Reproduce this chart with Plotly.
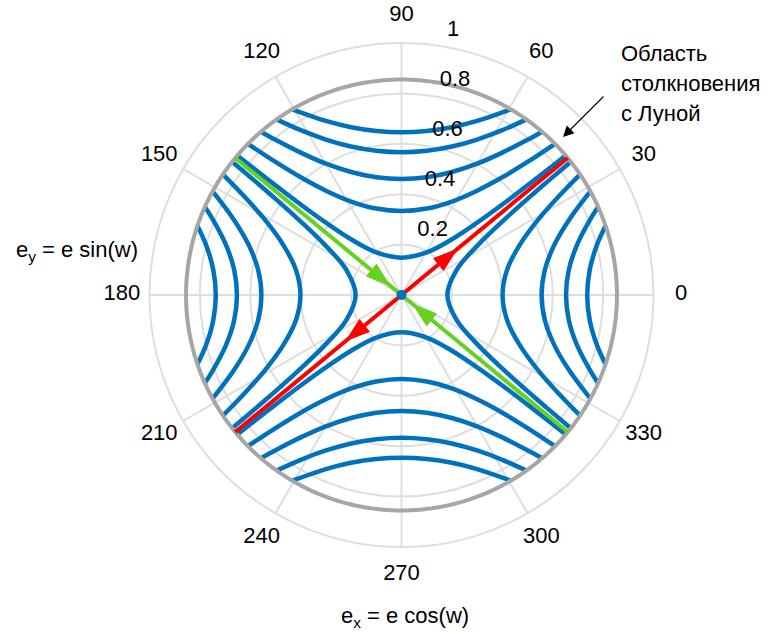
import numpy as np
import plotly.graph_objects as go

# ---- data (units of eccentricity) ----
# upper family, first-quadrant halves (mirrored to the left and to the bottom)
top_ex = [
    [0.0, 0.1, 0.2, 0.3, 0.436],
    [0.0, 0.1, 0.2, 0.3, 0.4, 0.498],
    [0.0, 0.1, 0.2, 0.3, 0.4, 0.5, 0.560],
    [0.0, 0.1, 0.2, 0.3, 0.4, 0.5, 0.611],
    [0.0, 0.1, 0.2, 0.3, 0.4, 0.5, 0.6, 0.653],
]
top_ey = [
    [0.646, 0.651, 0.666, 0.691, 0.738],
    [0.566, 0.572, 0.589, 0.617, 0.654, 0.698],
    [0.460, 0.467, 0.488, 0.521, 0.565, 0.616, 0.649],
    [0.333, 0.343, 0.371, 0.414, 0.467, 0.528, 0.601],
    [0.148, 0.169, 0.221, 0.287, 0.359, 0.435, 0.513, 0.555],
]
# side family, first-quadrant halves (mirrored to the bottom and to the left)
side_ey = [
    [0.0, 0.1, 0.2, 0.3, 0.4, 0.45, 0.530],
    [0.0, 0.1, 0.2, 0.3, 0.4, 0.480],
    [0.0, 0.1, 0.2, 0.3, 0.413],
    [0.0, 0.1, 0.2, 0.3, 0.352],
    [0.0, 0.1, 0.2, 0.277],
]
side_ex = [
    [0.182, 0.219, 0.305, 0.409, 0.521, 0.579, 0.673],
    [0.401, 0.419, 0.470, 0.543, 0.632, 0.710],
    [0.556, 0.569, 0.607, 0.666, 0.751],
    [0.653, 0.664, 0.697, 0.749, 0.782],
    [0.737, 0.747, 0.776, 0.811],
]
moon_r = 0.855          # collision-with-Moon eccentricity
sep_angle = 39.5        # separatrix direction, degrees
red_arrow_r = [0.21, 0.285]    # base, tip
green_arrow_r = [0.15, 0.06]   # base, tip
r_ticks = [0.2, 0.4, 0.6, 0.8, 1.0]
r_ticklabels = ["0.2", "0.4", "0.6", "0.8", "1"]
theta_ticks = list(range(0, 360, 30))
theta_ticklabels = [str(t) for t in theta_ticks]
annot_lines = ["Область", "столкновения", "с Луной"]

BLUE = "#0072BD"
RED = "#FF0000"
GREEN = "#66D11F"
GREY = "#A6A6A6"
GRID = "#DEDEDE"
FONT = "Liberation Sans, Arial, sans-serif"
FS = 22

# plot geometry (pixels): centre and radius of the r = 1 circle
CX, CY, R1 = 401.5, 295.0, 252.0
W, H = 768, 633
LABEL_RANGE = 1.15   # second (overlay) polar used for the tick labels


def to_polar(x, y):
    x = np.asarray(x, float)
    y = np.asarray(y, float)
    return np.hypot(x, y), np.degrees(np.arctan2(y, x))


def domain_for(rmax):
    rad = R1 * rmax
    return dict(x=[(CX - rad) / W, (CX + rad) / W],
                y=[(H - CY - rad) / H, (H - CY + rad) / H])


fig = go.Figure()


def add_curve(x, y):
    r, th = to_polar(x, y)
    fig.add_trace(go.Scatterpolar(r=r, theta=th, mode="lines",
                                  line=dict(color=BLUE, width=4.5, shape="spline"),
                                  hoverinfo="skip", showlegend=False))


for xs, ys in zip(top_ex, top_ey):
    xf = [-v for v in reversed(xs[1:])] + xs
    yf = list(reversed(ys[1:])) + ys
    add_curve(xf, yf)
    add_curve(xf, [-v for v in yf])

for xs, ys in zip(side_ex, side_ey):
    yf = [-v for v in reversed(ys[1:])] + ys
    xf = list(reversed(xs[1:])) + xs
    add_curve(xf, yf)
    add_curve([-v for v in xf], yf)

# collision circle
circ_t = np.linspace(0, 360, 721)
fig.add_trace(go.Scatterpolar(r=np.full_like(circ_t, moon_r), theta=circ_t, mode="lines",
                              line=dict(color=GREY, width=4), hoverinfo="skip", showlegend=False))

# separatrices
fig.add_trace(go.Scatterpolar(r=[moon_r, 0, moon_r], theta=[sep_angle + 180, 0, sep_angle],
                              mode="lines", line=dict(color=RED, width=4),
                              hoverinfo="skip", showlegend=False))
fig.add_trace(go.Scatterpolar(r=[moon_r, 0, moon_r], theta=[180 - sep_angle, 0, -sep_angle],
                              mode="lines", line=dict(color=GREEN, width=4),
                              hoverinfo="skip", showlegend=False))

# arrow heads
fig.add_trace(go.Scatterpolar(
    r=red_arrow_r + red_arrow_r,
    theta=[sep_angle, sep_angle, sep_angle + 180, sep_angle + 180],
    mode="markers",
    marker=dict(symbol="arrow", angleref="previous", size=[0, 25, 0, 25], color=RED,
                opacity=1, line=dict(width=1, color=RED)),
    hoverinfo="skip", showlegend=False))
fig.add_trace(go.Scatterpolar(
    r=green_arrow_r + green_arrow_r,
    theta=[180 - sep_angle, 180 - sep_angle, -sep_angle, -sep_angle],
    mode="markers",
    marker=dict(symbol="arrow", angleref="previous", size=[0, 25, 0, 25], color=GREEN,
                opacity=1, line=dict(width=1, color=GREEN)),
    hoverinfo="skip", showlegend=False))

# centre point
fig.add_trace(go.Scatterpolar(r=[0], theta=[0], mode="markers",
                              marker=dict(color=BLUE, size=10), hoverinfo="skip",
                              showlegend=False))

# radial tick labels (MATLAB style, near 80 degrees, offset outward a little)
fig.add_trace(go.Scatterpolar(r=[v + 0.06 for v in r_ticks], theta=[81.5] * len(r_ticks),
                              mode="text", text=["\u00a0" + s for s in r_ticklabels],
                              textposition="middle right", cliponaxis=False,
                              textfont=dict(size=FS, color="black", family=FONT),
                              hoverinfo="skip", showlegend=False, subplot="polar2"))

# angular tick labels, centred on a ring just outside the plot
fig.add_trace(go.Scatterpolar(r=[1.11] * len(theta_ticks), theta=theta_ticks,
                              mode="text", text=theta_ticklabels,
                              textposition="middle center", cliponaxis=False,
                              textfont=dict(size=FS, color="black", family=FONT),
                              hoverinfo="skip", showlegend=False, subplot="polar2"))

annotations = [
    dict(text="e<sub>y</sub> = e sin(w)", x=140 / W, y=1 - 251 / H,
         xref="paper", yref="paper", xanchor="right", yanchor="middle",
         showarrow=False, font=dict(size=FS, color="black", family=FONT)),
    dict(text="e<sub>x</sub> = e cos(w)", x=405 / W, y=1 - 617 / H,
         xref="paper", yref="paper", xanchor="center", yanchor="middle",
         showarrow=False, font=dict(size=FS, color="black", family=FONT)),
    dict(text="", x=563 / W, y=1 - 137 / H, xref="paper", yref="paper",
         showarrow=True, ax=42, ay=-42, arrowhead=2, arrowsize=1.8,
         arrowwidth=1.2, arrowcolor="black"),
]
for i, line in enumerate(annot_lines):
    annotations.append(dict(text=line, x=619 / W, y=1 - (54 + 29.5 * i) / H,
                            xref="paper", yref="paper", xanchor="left", yanchor="middle",
                            align="left", showarrow=False,
                            font=dict(size=FS, color="black", family=FONT)))

fig.update_layout(
    width=W, height=H,
    margin=dict(l=0, r=0, t=0, b=0),
    paper_bgcolor="white",
    font=dict(family=FONT, size=FS, color="black"),
    polar=dict(
        domain=domain_for(1.0),
        bgcolor="white",
        radialaxis=dict(range=[0, 1], tickvals=r_ticks, showticklabels=False,
                        showline=False, ticks="", gridcolor=GRID, gridwidth=2, angle=80),
        angularaxis=dict(tickvals=theta_ticks, ticktext=theta_ticklabels,
                         direction="counterclockwise", rotation=0,
                         showline=True, linecolor=GRID, linewidth=2,
                         gridcolor=GRID, gridwidth=2, showticklabels=False, ticks=""),
    ),
    polar2=dict(
        domain=domain_for(LABEL_RANGE),
        bgcolor="rgba(0,0,0,0)",
        radialaxis=dict(range=[0, LABEL_RANGE], visible=False, showgrid=False),
        angularaxis=dict(direction="counterclockwise", rotation=0, visible=False,
                         showgrid=False, showline=False),
    ),
    annotations=annotations,
)

fig.write_html("out.html")
